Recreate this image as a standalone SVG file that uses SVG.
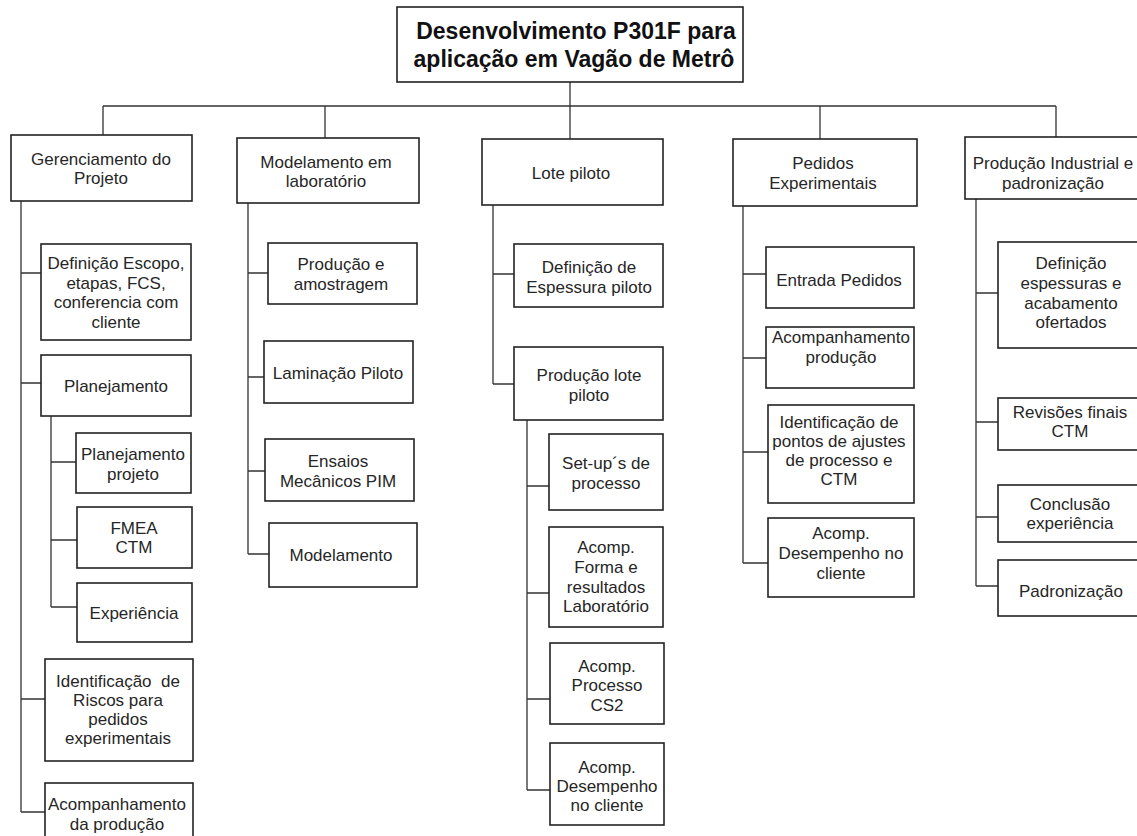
<svg xmlns="http://www.w3.org/2000/svg" width="1137" height="836" viewBox="0 0 1137 836">
<style>
.b{fill:#fff;stroke:#222;stroke-width:1.6}
.t{font-family:"Liberation Sans",Arial,sans-serif;font-size:17px;fill:#262626;text-anchor:middle}
.h{font-family:"Liberation Sans",Arial,sans-serif;font-size:23px;font-weight:bold;fill:#111;text-anchor:middle}
.c{fill:none;stroke:#333;stroke-width:1.3}
</style>
<rect width="1137" height="836" fill="#fff"/>
<g id="connectors" class="c">
<path d="M570 82V139M103 106H1056M103 106V135M325 106V138M820 106V139M1056 106V137"/>
<path d="M21 201V812M21 273H41M21 383H41M21 699H45M21 812H45"/>
<path d="M51 416V607M51 462H76M51 540H77M51 607H77"/>
<path d="M248 203V554M248 273H268M248 377H264M248 471H265M248 554H269"/>
<path d="M493 205V384M493 274H514M493 384H514"/>
<path d="M527 420V790M527 486H549M527 593H549M527 699H550M527 790H550"/>
<path d="M743 206V563M743 274H766M743 358H766M743 452H768M743 563H768"/>
<path d="M976 199V586M976 293H998M976 422H998M976 517H998M976 586H998"/>
</g>
<g id="root"><rect class="b" x="397" y="7" width="346" height="75"/>
<text class="h" x="576" y="39">Desenvolvimento P301F para</text>
<text class="h" x="574" y="67">aplicação em Vagão de Metrô</text></g>
<g id="gerenciamento"><rect class="b" x="11" y="135" width="181" height="66"/>
<text class="t" x="101" y="165">Gerenciamento do</text><text class="t" x="101" y="184">Projeto</text></g>
<g id="definicao-escopo"><rect class="b" x="41" y="244" width="150" height="96"/>
<text class="t" x="116" y="269">Definição Escopo,</text><text class="t" x="116" y="289">etapas, FCS,</text><text class="t" x="116" y="308">conferencia com</text><text class="t" x="116" y="328">cliente</text></g>
<g id="planejamento"><rect class="b" x="41" y="355" width="150" height="61"/>
<text class="t" x="116" y="392">Planejamento</text></g>
<g id="planejamento-projeto"><rect class="b" x="76" y="433" width="115" height="60"/>
<text class="t" x="133" y="460">Planejamento</text><text class="t" x="133" y="480">projeto</text></g>
<g id="fmea"><rect class="b" x="77" y="507" width="115" height="61"/>
<text class="t" x="134" y="534">FMEA</text><text class="t" x="134" y="553">CTM</text></g>
<g id="experiencia"><rect class="b" x="77" y="583" width="115" height="59"/>
<text class="t" x="134" y="619">Experiência</text></g>
<g id="riscos"><rect class="b" x="45" y="659" width="148" height="102"/>
<text class="t" x="118" y="687" xml:space="preserve">Identificação  de</text><text class="t" x="118" y="706">Riscos para</text><text class="t" x="118" y="725">pedidos</text><text class="t" x="118" y="744">experimentais</text></g>
<g id="acomp-producao"><rect class="b" x="45" y="783" width="148" height="70"/>
<text class="t" x="117" y="810">Acompanhamento</text><text class="t" x="117" y="830">da produção</text></g>
<g id="modelamento-lab"><rect class="b" x="237" y="138" width="182" height="65"/>
<text class="t" x="326" y="168">Modelamento em</text><text class="t" x="326" y="187">laboratório</text></g>
<g id="producao-amostragem"><rect class="b" x="268" y="243" width="149" height="61"/>
<text class="t" x="341" y="270">Produção e</text><text class="t" x="341" y="290">amostragem</text></g>
<g id="laminacao"><rect class="b" x="264" y="341" width="149" height="62"/>
<text class="t" x="338" y="379">Laminação Piloto</text></g>
<g id="ensaios"><rect class="b" x="265" y="439" width="149" height="62"/>
<text class="t" x="338" y="467">Ensaios</text><text class="t" x="338" y="487">Mecânicos PIM</text></g>
<g id="modelamento"><rect class="b" x="269" y="523" width="148" height="64"/>
<text class="t" x="341" y="561">Modelamento</text></g>
<g id="lote-piloto"><rect class="b" x="482" y="139" width="181" height="66"/>
<text class="t" x="571" y="179">Lote piloto</text></g>
<g id="definicao-espessura"><rect class="b" x="514" y="244" width="149" height="63"/>
<text class="t" x="589" y="273">Definição de</text><text class="t" x="589" y="293">Espessura piloto</text></g>
<g id="producao-lote"><rect class="b" x="514" y="347" width="149" height="73"/>
<text class="t" x="589" y="381">Produção lote</text><text class="t" x="589" y="401">piloto</text></g>
<g id="setups"><rect class="b" x="549" y="434" width="114" height="76"/>
<text class="t" x="606" y="469">Set-up´s de</text><text class="t" x="606" y="489">processo</text></g>
<g id="acomp-forma"><rect class="b" x="549" y="527" width="114" height="100"/>
<text class="t" x="606" y="553">Acomp.</text><text class="t" x="606" y="573">Forma e</text><text class="t" x="606" y="593">resultados</text><text class="t" x="606" y="612">Laboratório</text></g>
<g id="acomp-processo"><rect class="b" x="550" y="643" width="114" height="81"/>
<text class="t" x="607" y="672">Acomp.</text><text class="t" x="607" y="691">Processo</text><text class="t" x="607" y="711">CS2</text></g>
<g id="acomp-desempenho-lote"><rect class="b" x="550" y="743" width="114" height="82"/>
<text class="t" x="607" y="773">Acomp.</text><text class="t" x="607" y="792">Desempenho</text><text class="t" x="607" y="811">no cliente</text></g>
<g id="pedidos"><rect class="b" x="733" y="139" width="184" height="67"/>
<text class="t" x="823" y="169">Pedidos</text><text class="t" x="823" y="189">Experimentais</text></g>
<g id="entrada-pedidos"><rect class="b" x="766" y="247" width="148" height="61"/>
<text class="t" x="839" y="286">Entrada Pedidos</text></g>
<g id="acomp-prod-pedidos"><rect class="b" x="766" y="327" width="148" height="61"/>
<text class="t" x="841" y="343">Acompanhamento</text><text class="t" x="841" y="363">produção</text></g>
<g id="ident-pontos"><rect class="b" x="768" y="405" width="146" height="98"/>
<text class="t" x="839" y="428">Identificação de</text><text class="t" x="839" y="447">pontos de ajustes</text><text class="t" x="839" y="466">de processo e</text><text class="t" x="839" y="485">CTM</text></g>
<g id="acomp-desempenho-pedidos"><rect class="b" x="768" y="518" width="146" height="79"/>
<text class="t" x="841" y="539">Acomp.</text><text class="t" x="841" y="559">Desempenho no</text><text class="t" x="841" y="579">cliente</text></g>
<g id="producao-industrial"><rect class="b" x="965" y="137" width="185" height="62"/>
<text class="t" x="1053" y="169">Produção Industrial e</text><text class="t" x="1053" y="189">padronização</text></g>
<g id="definicao-espessuras"><rect class="b" x="998" y="242" width="152" height="106"/>
<text class="t" x="1071" y="269">Definição</text><text class="t" x="1071" y="289">espessuras e</text><text class="t" x="1071" y="309">acabamento</text><text class="t" x="1071" y="328">ofertados</text></g>
<g id="revisoes"><rect class="b" x="998" y="398" width="152" height="52"/>
<text class="t" x="1070" y="418">Revisões finais</text><text class="t" x="1070" y="437">CTM</text></g>
<g id="conclusao"><rect class="b" x="998" y="485" width="152" height="57"/>
<text class="t" x="1070" y="510">Conclusão</text><text class="t" x="1070" y="529">experiência</text></g>
<g id="padronizacao"><rect class="b" x="998" y="560" width="152" height="56"/>
<text class="t" x="1071" y="597">Padronização</text></g>
</svg>
